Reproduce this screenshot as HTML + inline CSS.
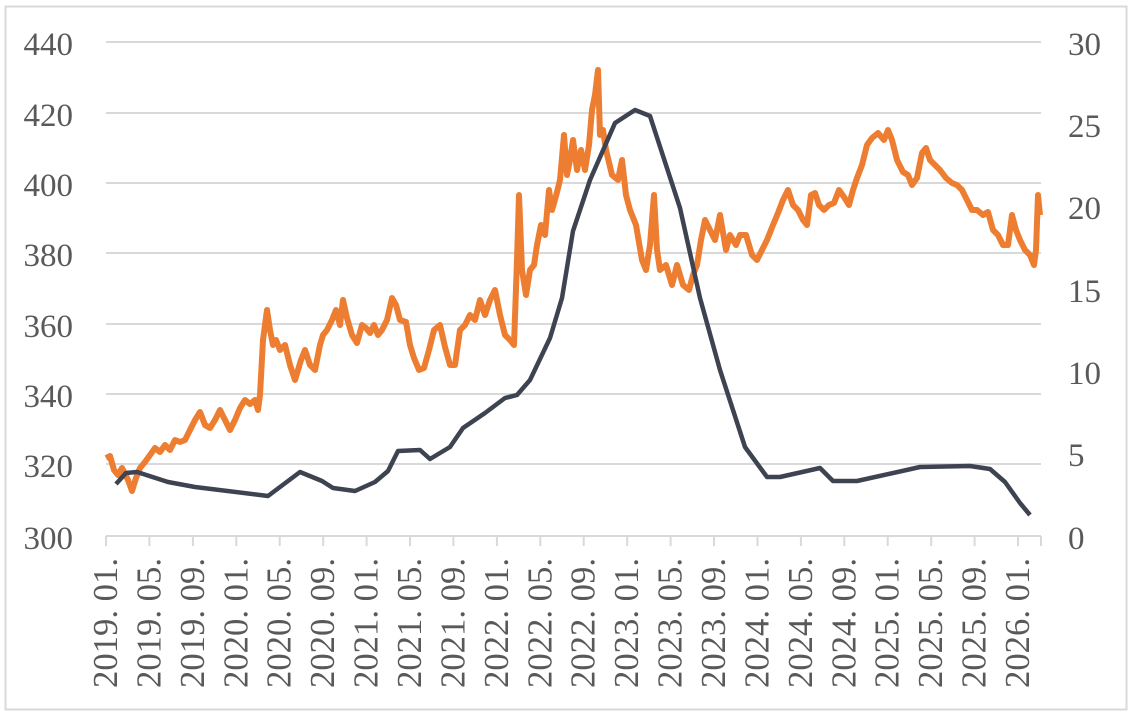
<!DOCTYPE html>
<html><head><meta charset="utf-8"><style>
html,body{margin:0;padding:0;background:#fff;}
svg{display:block;}
text{font-family:"Liberation Serif",serif;fill:#595959;}
</style></head><body>
<svg width="1133" height="716" viewBox="0 0 1133 716" xmlns="http://www.w3.org/2000/svg">
<rect x="5.5" y="6.5" width="1121" height="703" fill="#fff" stroke="#d9d9d9" stroke-width="2"/>
<g stroke="#d9d9d9" stroke-width="2">
<line x1="106" y1="42" x2="1041" y2="42"/>
<line x1="106" y1="113" x2="1041" y2="113"/>
<line x1="106" y1="183" x2="1041" y2="183"/>
<line x1="106" y1="253" x2="1041" y2="253"/>
<line x1="106" y1="324" x2="1041" y2="324"/>
<line x1="106" y1="394" x2="1041" y2="394"/>
<line x1="106" y1="464" x2="1041" y2="464"/>
<line x1="106" y1="536" x2="1041" y2="536"/>
<line x1="106" y1="536" x2="106" y2="546"/><line x1="149.4" y1="536" x2="149.4" y2="546"/><line x1="192.9" y1="536" x2="192.9" y2="546"/><line x1="236.3" y1="536" x2="236.3" y2="546"/><line x1="279.7" y1="536" x2="279.7" y2="546"/><line x1="323.2" y1="536" x2="323.2" y2="546"/><line x1="366.6" y1="536" x2="366.6" y2="546"/><line x1="410" y1="536" x2="410" y2="546"/><line x1="453.4" y1="536" x2="453.4" y2="546"/><line x1="496.9" y1="536" x2="496.9" y2="546"/><line x1="540.3" y1="536" x2="540.3" y2="546"/><line x1="583.7" y1="536" x2="583.7" y2="546"/><line x1="627.2" y1="536" x2="627.2" y2="546"/><line x1="670.6" y1="536" x2="670.6" y2="546"/><line x1="714" y1="536" x2="714" y2="546"/><line x1="757.5" y1="536" x2="757.5" y2="546"/><line x1="800.9" y1="536" x2="800.9" y2="546"/><line x1="844.3" y1="536" x2="844.3" y2="546"/><line x1="887.7" y1="536" x2="887.7" y2="546"/><line x1="931.2" y1="536" x2="931.2" y2="546"/><line x1="974.6" y1="536" x2="974.6" y2="546"/><line x1="1018" y1="536" x2="1018" y2="546"/><line x1="1041" y1="536" x2="1041" y2="546"/>
</g>
<g font-size="33" text-anchor="end">
<text x="73" y="55">440</text><text x="73" y="126">420</text><text x="73" y="196">400</text><text x="73" y="266">380</text><text x="73" y="337">360</text><text x="73" y="407">340</text><text x="73" y="477">320</text><text x="73" y="549">300</text>
</g>
<g font-size="33" text-anchor="start">
<text x="1068" y="55">30</text><text x="1068" y="137">25</text><text x="1068" y="219">20</text><text x="1068" y="302">15</text><text x="1068" y="384">10</text><text x="1068" y="466">5</text><text x="1068" y="549">0</text>
</g>
<g font-size="35" text-anchor="end">
<text transform="translate(117,558) rotate(-90)" textLength="130" lengthAdjust="spacingAndGlyphs">2019. 01.</text>
<text transform="translate(160.4,558) rotate(-90)" textLength="130" lengthAdjust="spacingAndGlyphs">2019. 05.</text>
<text transform="translate(203.9,558) rotate(-90)" textLength="130" lengthAdjust="spacingAndGlyphs">2019. 09.</text>
<text transform="translate(247.3,558) rotate(-90)" textLength="130" lengthAdjust="spacingAndGlyphs">2020. 01.</text>
<text transform="translate(290.7,558) rotate(-90)" textLength="130" lengthAdjust="spacingAndGlyphs">2020. 05.</text>
<text transform="translate(334.2,558) rotate(-90)" textLength="130" lengthAdjust="spacingAndGlyphs">2020. 09.</text>
<text transform="translate(377.6,558) rotate(-90)" textLength="130" lengthAdjust="spacingAndGlyphs">2021. 01.</text>
<text transform="translate(421,558) rotate(-90)" textLength="130" lengthAdjust="spacingAndGlyphs">2021. 05.</text>
<text transform="translate(464.4,558) rotate(-90)" textLength="130" lengthAdjust="spacingAndGlyphs">2021. 09.</text>
<text transform="translate(507.9,558) rotate(-90)" textLength="130" lengthAdjust="spacingAndGlyphs">2022. 01.</text>
<text transform="translate(551.3,558) rotate(-90)" textLength="130" lengthAdjust="spacingAndGlyphs">2022. 05.</text>
<text transform="translate(594.7,558) rotate(-90)" textLength="130" lengthAdjust="spacingAndGlyphs">2022. 09.</text>
<text transform="translate(638.2,558) rotate(-90)" textLength="130" lengthAdjust="spacingAndGlyphs">2023. 01.</text>
<text transform="translate(681.6,558) rotate(-90)" textLength="130" lengthAdjust="spacingAndGlyphs">2023. 05.</text>
<text transform="translate(725,558) rotate(-90)" textLength="130" lengthAdjust="spacingAndGlyphs">2023. 09.</text>
<text transform="translate(768.5,558) rotate(-90)" textLength="130" lengthAdjust="spacingAndGlyphs">2024. 01.</text>
<text transform="translate(811.9,558) rotate(-90)" textLength="130" lengthAdjust="spacingAndGlyphs">2024. 05.</text>
<text transform="translate(855.3,558) rotate(-90)" textLength="130" lengthAdjust="spacingAndGlyphs">2024. 09.</text>
<text transform="translate(898.7,558) rotate(-90)" textLength="130" lengthAdjust="spacingAndGlyphs">2025. 01.</text>
<text transform="translate(942.2,558) rotate(-90)" textLength="130" lengthAdjust="spacingAndGlyphs">2025. 05.</text>
<text transform="translate(985.6,558) rotate(-90)" textLength="130" lengthAdjust="spacingAndGlyphs">2025. 09.</text>
<text transform="translate(1029,558) rotate(-90)" textLength="130" lengthAdjust="spacingAndGlyphs">2026. 01.</text>
</g>
<polyline fill="none" stroke="#ED7D31" stroke-width="6" stroke-linejoin="round" points="106,458 110,456 114,470 118,475 122,468 128,480 132,491 136,478 140,468 145,462 150,455 155,448 160,452 165,445 170,450 175,440 180,442 185,440 190,430 195,420 200,412 205,425 210,428 215,420 220,410 225,420 230,430 235,420 240,408 245,400 250,404 255,400 258,410 260,395 263,340 267,310 270,330 273,345 276,340 280,350 285,345 290,365 295,380 298,370 301,360 305,350 310,365 315,370 320,345 323,335 327,330 332,320 336,310 340,325 343,300 347,318 352,335 357,343 362,325 366,328 370,333 374,325 378,335 382,330 387,320 392,298 396,305 400,320 406,322 410,345 414,358 419,370 424,368 429,350 434,330 440,325 445,347 450,365 455,365 460,330 465,325 470,315 475,320 480,300 485,315 490,300 495,290 500,315 505,335 510,340 514,345 517,260 519,195 522,270 526,295 530,270 534,265 537,245 541,225 545,235 549,190 552,210 556,196 560,180 564,135 567,175 570,160 573,140 577,170 581,150 585,170 589,145 592,110 595,95 598,70 600,135 603,130 606,150 612,175 618,180 622,160 626,195 630,210 636,225 642,260 646,270 650,245 654,195 657,250 660,270 666,265 672,285 677,265 683,285 689,290 693,275 697,265 701,240 705,220 710,230 715,240 720,215 726,250 730,235 736,245 740,235 746,235 752,255 757,260 762,250 767,240 773,225 778,213 783,200 788,190 793,205 798,210 803,220 807,225 811,195 815,193 819,205 824,210 829,205 834,203 839,190 844,197 849,205 853,190 857,178 862,165 867,145 872,138 878,133 884,140 888,130 892,140 897,160 903,172 908,175 912,185 917,178 922,153 926,148 930,160 935,165 940,170 946,178 952,183 957,185 962,190 967,200 972,210 977,210 983,215 988,212 993,230 998,235 1003,245 1008,245 1012,215 1016,230 1020,240 1025,250 1030,255 1034,265 1036,250 1038,195 1040,215"/>
<polyline fill="none" stroke="#3D4350" stroke-width="4.5" stroke-linejoin="round" points="116,484 126,473 137,472 168,482 195,487 268,496 300,472 322,481 333,488 355,491 375,482 388,471 398,451 420,450 430,459 450,447 463,428 485,413 505,398 517,395 530,380 550,338 562,298 573,231 590,180 615,123 635,110 650,116 680,208 700,298 720,370 745,447 767,477 780,477 820,468 833,481 857,481 920,467 970,466 990,469 1005,482 1020,503 1030,515"/>
</svg>
</body></html>
